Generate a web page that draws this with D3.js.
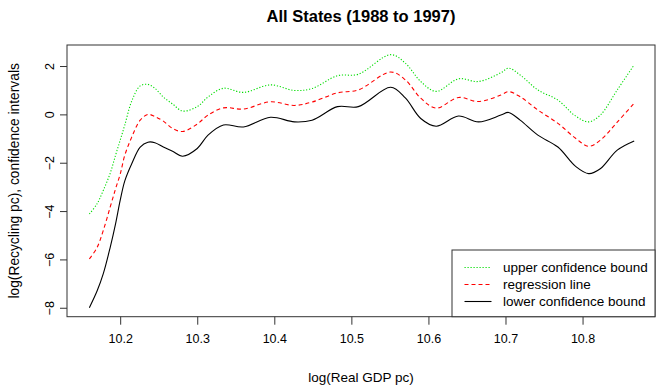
<!DOCTYPE html>
<html>
<head>
<meta charset="utf-8">
<script src="https://cdn.jsdelivr.net/npm/d3@7"></script>
<style>
  body { margin: 0; background: #fff; }
  svg { display: block; font-family: "Liberation Sans", Arial, sans-serif; }
</style>
</head>
<body>
<div id="chart"></div>
<script>
// log(Real GDP pc) sample points
const gdp = [10.160, 10.170, 10.178, 10.187, 10.194, 10.200, 10.206, 10.215, 10.226, 10.236,
  10.245, 10.256, 10.268, 10.281, 10.300, 10.314, 10.334, 10.360, 10.395, 10.426,
  10.449, 10.482, 10.509, 10.551, 10.570, 10.590, 10.610, 10.639, 10.665, 10.694,
  10.704, 10.719, 10.742, 10.768, 10.791, 10.808, 10.823, 10.845, 10.867];

const upper = [-4.12, -3.70, -3.15, -2.44, -1.69, -1.07, -0.44, 0.55, 1.18, 1.24,
  1.08, 0.72, 0.43, 0.14, 0.32, 0.72, 1.08, 0.91, 1.22, 0.99,
  1.07, 1.60, 1.66, 2.47, 2.12, 1.36, 0.95, 1.47, 1.36, 1.72,
  1.91, 1.63, 1.01, 0.59, -0.07, -0.31, -0.03, 1.01, 2.05];

const fit = [-5.98, -5.51, -4.81, -3.84, -3.08, -2.48, -1.69, -0.94, -0.24, 0.00,
  -0.09, -0.28, -0.58, -0.71, -0.40, -0.03, 0.27, 0.22, 0.52, 0.37,
  0.51, 0.89, 1.01, 1.75, 1.43, 0.67, 0.26, 0.70, 0.53, 0.80,
  0.94, 0.73, 0.18, -0.37, -0.99, -1.32, -1.07, -0.32, 0.46];

const lower = [-8.00, -7.31, -6.60, -5.51, -4.53, -3.56, -2.75, -2.04, -1.35, -1.15,
  -1.17, -1.35, -1.53, -1.73, -1.41, -0.86, -0.44, -0.52, -0.12, -0.31,
  -0.24, 0.32, 0.32, 1.12, 0.68, -0.17, -0.49, -0.07, -0.31, -0.03,
  0.08, -0.24, -0.86, -1.35, -2.15, -2.45, -2.25, -1.48, -1.10];

const xTicks = [10.2, 10.3, 10.4, 10.5, 10.6, 10.7, 10.8];
const yTicks = [-8, -6, -4, -2, 0, 2];

const seriesNames = ["upper confidence bound", "regression line", "lower confidence bound"];

const width = 660, height = 388;
const plotLeft = 67, plotRight = 655, plotTop = 45, plotBottom = 316.7;

const svg = d3.select("#chart").append("svg")
    .attr("width", width)
    .attr("height", height);

const xScale = d3.scaleLinear().domain([10.131, 10.894]).range([plotLeft, plotRight]);
const yScale = d3.scaleLinear().domain([-8.37, 2.87]).range([plotBottom, plotTop]);

const lineStyles = [
    { values: upper, color: "#00dd00", dash: "1.2 1.8" },
    { values: fit, color: "#ff0000", dash: "4 3" },
    { values: lower, color: "#000000", dash: null }
];

//Curves
const line = d3.line()
    .x((d, i) => xScale(gdp[i]))
    .y(d => yScale(d))
    .curve(d3.curveCatmullRom.alpha(0.5));

for (let s of lineStyles) {
    svg.append("path")
        .datum(s.values)
        .attr("fill", "none")
        .attr("stroke", s.color)
        .attr("stroke-width", 1.1)
        .attr("stroke-dasharray", s.dash)
        .attr("d", line);
}

//Plot box
svg.append("rect")
    .attr("x", plotLeft)
    .attr("y", plotTop)
    .attr("width", plotRight - plotLeft)
    .attr("height", plotBottom - plotTop)
    .attr("fill", "none")
    .attr("stroke", "#333");

//X axis
let xAxis = svg.append("g")
    .attr("transform", "translate(0," + plotBottom + ")")
    .call(d3.axisBottom(xScale).tickValues(xTicks).tickSize(8).tickPadding(9).tickFormat(d3.format(".1f")));
xAxis.select(".domain").remove();
xAxis.selectAll("line").attr("stroke", "#333");
xAxis.selectAll("text")
    .style("font-size", "12.5px")
    .attr("fill", "#000");

//Y axis
let yAxis = svg.append("g")
    .attr("transform", "translate(" + plotLeft + ",0)")
    .call(d3.axisLeft(yScale).tickValues(yTicks).tickSize(7));
yAxis.select(".domain").remove();
yAxis.selectAll("line").attr("stroke", "#333");
yAxis.selectAll("text")
    .attr("x", null)
    .attr("dy", "0.35em")
    .attr("text-anchor", "middle")
    .attr("transform", "translate(-17,0) rotate(-90)")
    .style("font-size", "12.5px")
    .attr("fill", "#000");

//Titles
svg.append("text")
    .attr("x", (plotLeft + plotRight) / 2)
    .attr("y", 22)
    .attr("text-anchor", "middle")
    .style("font-size", "16.5px")
    .style("font-weight", "bold")
    .text("All States (1988 to 1997)");

svg.append("text")
    .attr("x", (plotLeft + plotRight) / 2)
    .attr("y", 382)
    .attr("text-anchor", "middle")
    .style("font-size", "13.5px")
    .text("log(Real GDP pc)");

svg.append("text")
    .attr("transform", "translate(19," + ((plotTop + plotBottom) / 2) + ") rotate(-90)")
    .attr("text-anchor", "middle")
    .style("font-size", "13.8px")
    .text("log(Recycling pc), confidence intervals");

//Legend
const legendW = 203, legendH = 66.7;
let legend = svg.append("g")
    .attr("transform", "translate(" + (plotRight - legendW) + "," + (plotBottom - legendH) + ")");
legend.append("rect")
    .attr("width", legendW)
    .attr("height", legendH)
    .attr("fill", "#fff")
    .attr("stroke", "#333");

seriesNames.forEach(function (name, i) {
    let y = 17.5 + i * 17;
    legend.append("line")
        .attr("x1", 12.5)
        .attr("x2", 39.5)
        .attr("y1", y)
        .attr("y2", y)
        .attr("stroke", lineStyles[i].color)
        .attr("stroke-width", 1.1)
        .attr("stroke-dasharray", lineStyles[i].dash);
    legend.append("text")
        .attr("x", 51)
        .attr("y", y)
        .attr("dy", "0.35em")
        .style("font-size", "13.5px")
        .text(name);
});
</script>
</body>
</html>
